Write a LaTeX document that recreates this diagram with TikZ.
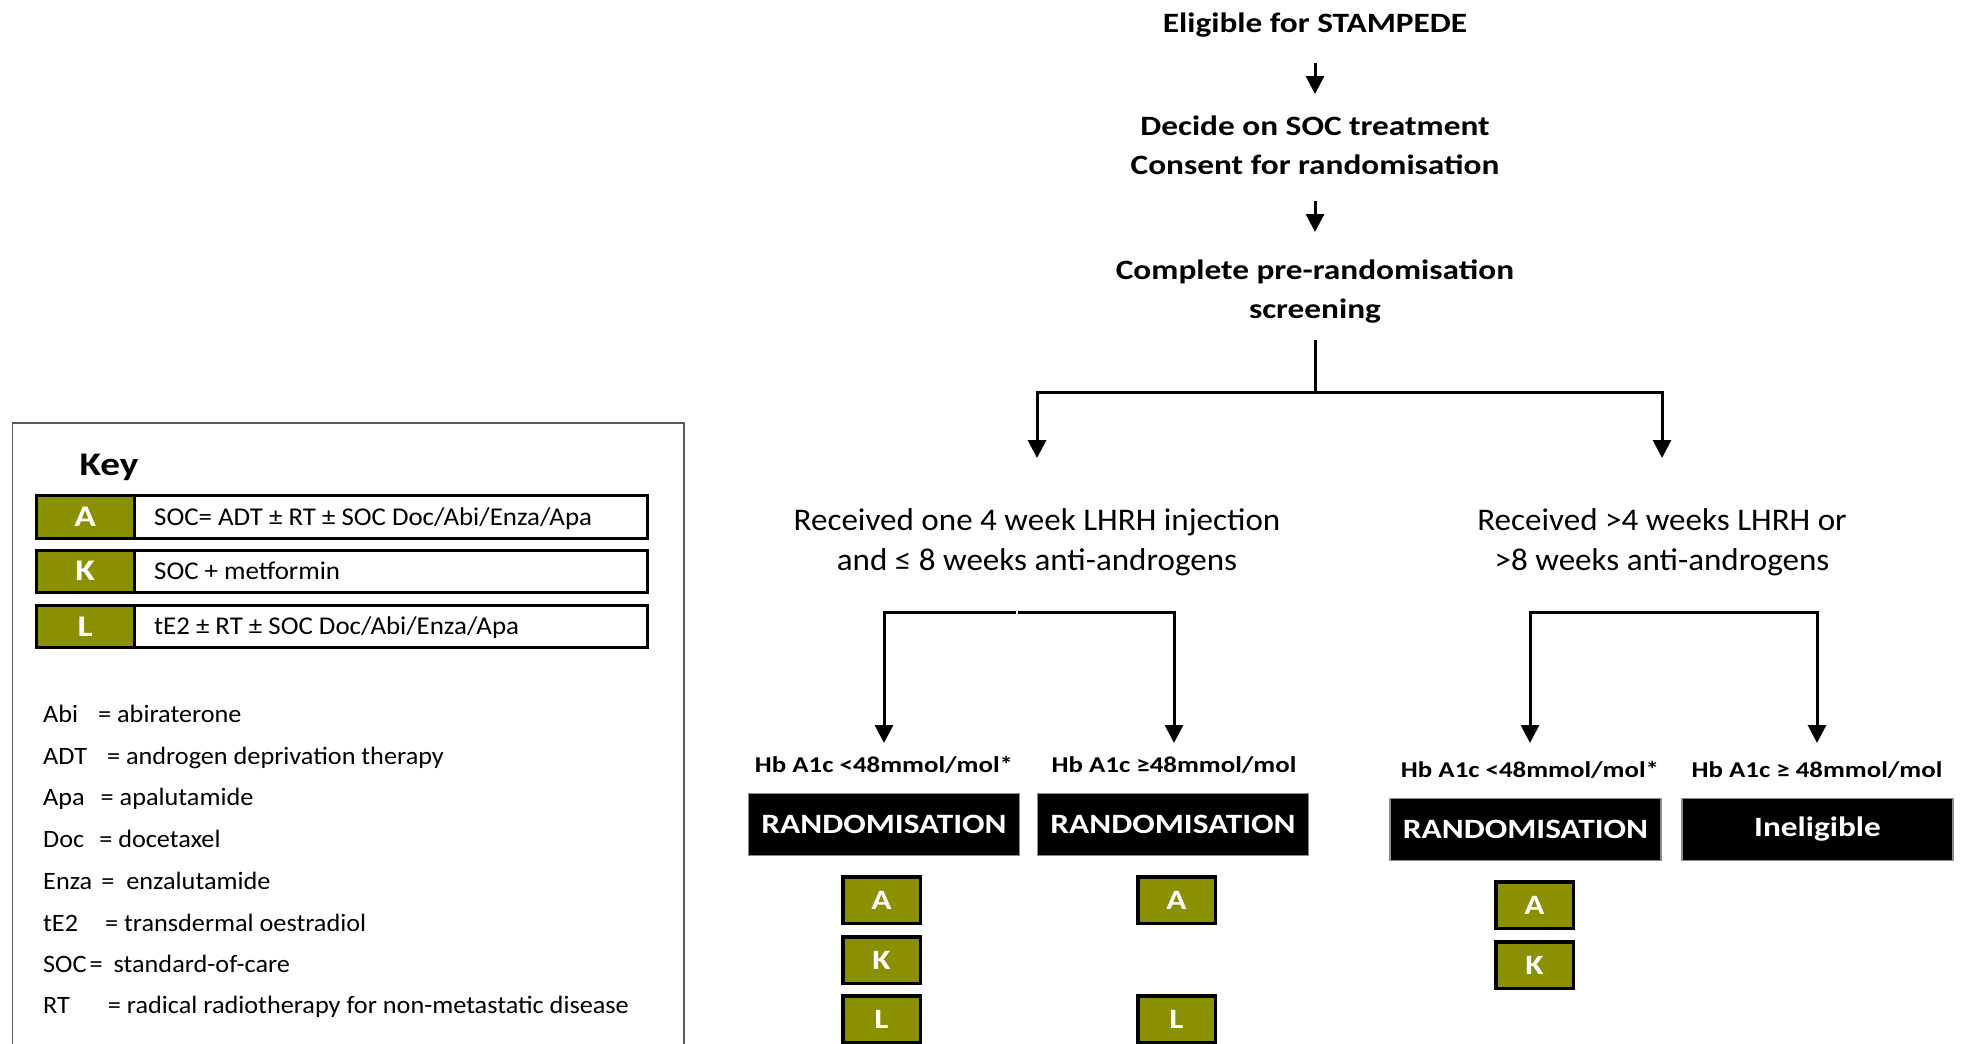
\documentclass[tikz,border=0pt]{standalone}
\usepackage{fontspec}
\setmainfont{Carlito}[FakeStretch=1.05, BoldFeatures={FakeStretch=1.19}]
\usetikzlibrary{arrows.meta}
\definecolor{olivebox}{RGB}{139,144,0}
\definecolor{keyframe}{RGB}{90,90,90}
\begin{document}
\begin{tikzpicture}[x=1pt,y=-1pt,
  toptext/.style={font=\bfseries\fontsize{28}{39}\selectfont, align=center, inner sep=0pt},
  cond/.style={font=\fontsize{31.5}{40}\selectfont, align=center, inner sep=0pt},
  hb/.style={font=\bfseries\fontsize{22.6}{28}\selectfont, inner sep=0pt},
  blackbox/.style={fill=black, draw=black!45, line width=1.2pt, text=white,
    font=\bfseries\fontsize{28}{34}\selectfont, minimum width=271pt, minimum height=62pt, inner sep=0pt},
  armbox/.style={fill=olivebox, draw=black, line width=3.5pt, text=white,
    font=\bfseries\fontsize{28}{34}\selectfont, minimum width=77.5pt, minimum height=46.5pt, inner sep=0pt},
  arr/.style={line width=3pt, -{Triangle[width=18pt,length=18pt]}},
  conn/.style={line width=3pt},
  keyrow/.style={draw=black, line width=3pt, fill=white, minimum width=611pt, minimum height=42.5pt, inner sep=0pt},
  keyletter/.style={fill=olivebox, draw=black, line width=3pt, text=white,
    font=\bfseries\fontsize{30}{36}\selectfont, minimum width=97.5pt, minimum height=42.5pt, inner sep=0pt},
  keytext/.style={font=\fontsize{25.6}{30}\selectfont, inner sep=0pt, anchor=west, text height=17pt, text depth=5pt},
  abbrtext/.style={font=\fontsize{25}{30}\selectfont, inner sep=0pt, anchor=west, text height=17pt, text depth=5pt},
]
\useasboundingbox (0,0) rectangle (1968,1044);
\fill[white] (0,0) rectangle (1968,1044);

% ---- top chain
\node[toptext] (elig) at (1315,25) {Eligible for STAMPEDE};
\node[toptext] (decide) at (1315,145) {Decide on SOC treatment\\Consent for randomisation};
\node[toptext] (complete) at (1315,291.5) {Complete pre-randomisation\\screening};
\draw[arr, shorten <=38pt, shorten >=51pt] (elig.center) -- (decide.center);
\draw[arr, shorten <=56pt, shorten >=59.5pt] (decide.center) -- (complete.center);

% ---- first split
\node[cond] (condL) at (1037,542.5) {Received one 4 week LHRH injection\\and ≤ 8 weeks anti-androgens};
\node[cond] (condR) at (1662,542.5) {Received >4 weeks LHRH or\\>8 weeks anti-androgens};
\coordinate (jtop) at (1315,392);
\draw[conn, shorten <=48.5pt] (complete.center) -- (jtop);
\draw[arr, shorten >=84.5pt] (jtop) -| (condL.center);
\draw[arr, shorten >=84.5pt] (jtop) -| (condR.center);

% ---- second split, left
\node[hb] (hbA) at (884,765) {Hb A1c <48mmol/mol*};
\node[hb] (hbB) at (1174,765) {Hb A1c ≥48mmol/mol};
\coordinate (brL) at (1017,612);
\draw[arr, shorten <=1pt, shorten >=22pt] (brL) -| (hbA.center);
\draw[arr, shorten <=1pt, shorten >=22pt] (brL) -| (hbB.center);

% ---- second split, right
\node[hb] (hbC) at (1530,770) {Hb A1c <48mmol/mol*};
\node[hb] (hbD) at (1817,770) {Hb A1c ≥ 48mmol/mol};
\coordinate (brR) at (1673,612);
\draw[arr, shorten >=27pt] (brR) -| (hbC.center);
\draw[arr, shorten >=27pt] (brR) -| (hbD.center);

% ---- outcome boxes
\node[blackbox] (rA) at (884,824.5) {RANDOMISATION};
\node[blackbox] (rB) at (1173,824.5) {RANDOMISATION};
\node[blackbox] (rC) at (1525.5,829.5) {RANDOMISATION};
\node[blackbox] (inel) at (1817.5,829.5) {Ineligible};

% ---- arms
\node[armbox] (aA1) at (881.5,900) {A};
\node[armbox] (aK1) at (881.5,960) {K};
\node[armbox] (aL1) at (881.5,1019) {L};
\node[armbox] (aA2) at (1176.5,900) {A};
\node[armbox] (aL2) at (1176.5,1019) {L};
\node[armbox] (aA3) at (1534.5,905) {A};
\node[armbox] (aK3) at (1534.5,965) {K};

% ---- key
\draw[keyframe, line width=1.5pt] (12.5,423) rectangle (684,1060);
\node[font=\bfseries\fontsize{33}{40}\selectfont, inner sep=0pt] (keylbl) at (109,467) {Key};

\node[keyrow] (rowA) at (342,517) {};
\node[keyletter] (rowAl) at (85.25,517) {A};
\node[keytext] (rowAt) at (154,519) {SOC= ADT ± RT ± SOC Doc/Abi/Enza/Apa};

\node[keyrow] (rowK) at (342,571.25) {};
\node[keyletter] (rowKl) at (85.25,571.25) {K};
\node[keytext] (rowKt) at (154,573.25) {SOC + metformin};

\node[keyrow] (rowL) at (342,626.5) {};
\node[keyletter] (rowLl) at (85.25,626.5) {L};
\node[keytext] (rowLt) at (154,628.5) {tE2 ± RT ± SOC Doc/Abi/Enza/Apa};

\node[abbrtext] (ab1) at (43,716.5) {Abi\hspace{20pt}= abiraterone};
\node[abbrtext] (ab2) at (43,758) {ADT\hspace{20pt}= androgen deprivation therapy};
\node[abbrtext] (ab3) at (43,799.5) {Apa\hspace{16pt}= apalutamide};
\node[abbrtext] (ab4) at (43,841) {Doc\hspace{15pt}= docetaxel};
\node[abbrtext] (ab5) at (43,883) {Enza\hspace{9pt}=\hspace{12pt}enzalutamide};
\node[abbrtext] (ab6) at (43,925) {tE2\hspace{27pt}= transdermal oestradiol};
\node[abbrtext] (ab7) at (43,966.5) {SOC\hspace{3pt}=\hspace{11pt}standard-of-care};
\node[abbrtext] (ab8) at (43,1007.5) {RT\hspace{38pt}= radical radiotherapy for non-metastatic disease};
\end{tikzpicture}
\end{document}
